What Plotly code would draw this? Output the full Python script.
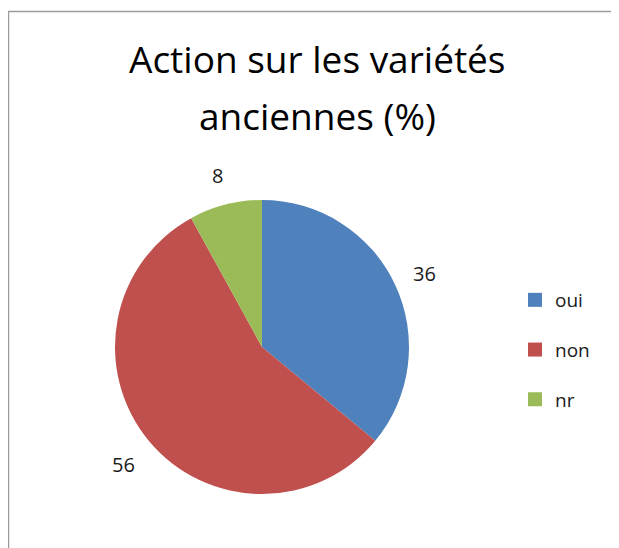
import plotly.graph_objects as go
import math

labels = ["oui", "non", "nr"]
values = [36, 56, 8]
colors = ["#4F81BD", "#C0504D", "#9BBB59"]
title_lines = ["Action sur les variétés", "anciennes (%)"]

W, H = 619, 548
OFF = 8  # page body margin
cx, cy, R = 262 - OFF, 347 - OFF, 147

fig = go.Figure()
fig.add_trace(go.Pie(
    labels=labels, values=values, sort=False, direction="clockwise", rotation=0,
    marker=dict(colors=colors, line=dict(width=0)),
    textinfo="none", showlegend=False, hoverinfo="label+value",
    domain=dict(x=[(cx - R) / W, (cx + R) / W], y=[1 - (cy + R) / H, 1 - (cy - R) / H]),
))

# data labels placed outside, computed from the values
total = sum(values)
cum = 0
annotations = []
for lab, v in zip(labels, values):
    mid = (cum + v / 2) / total * 2 * math.pi
    cum += v
    rr = R + 33
    px = cx + rr * math.sin(mid)
    py = cy - rr * math.cos(mid) + 3
    annotations.append(dict(x=px / W, y=1 - py / H, xref="paper", yref="paper",
                            xanchor="center", yanchor="middle",
                            text=str(v), showarrow=False,
                            font=dict(family="Open Sans", size=20, color="#1a1a1a")))

for i, line in enumerate(title_lines):
    annotations.append(dict(x=(317 - OFF) / W, y=1 - (58 - OFF + 58 * i) / H,
                            xref="paper", yref="paper",
                            xanchor="center", yanchor="middle",
                            text=line, showarrow=False,
                            font=dict(family="Open Sans", size=37, color="#000")))

# legend entries
for lab, c in zip(labels, colors):
    fig.add_trace(go.Scatter(x=[None], y=[None], mode="markers", name=lab,
                             legendgroup=lab,
                             marker=dict(symbol="square", size=14, color=c)))

fig.update_layout(
    width=W, height=H, margin=dict(l=0, r=0, t=0, b=0),
    paper_bgcolor="white", plot_bgcolor="white",
    xaxis=dict(visible=False), yaxis=dict(visible=False),
    annotations=annotations,
    legend=dict(x=507 / W, y=1 - 273 / H, xanchor="left", yanchor="top",
                font=dict(family="Open Sans", size=19, color="#1a1a1a"),
                tracegroupgap=22, itemwidth=30, bgcolor="rgba(0,0,0,0)"),
    shapes=[dict(type="rect", xref="paper", yref="paper",
                 x0=0.5 / W, y0=-0.1, x1=1.1, y1=1 - 3.5 / H,
                 line=dict(color="#9a9a9a", width=1.5))],
)

fig.write_html("out.html")
